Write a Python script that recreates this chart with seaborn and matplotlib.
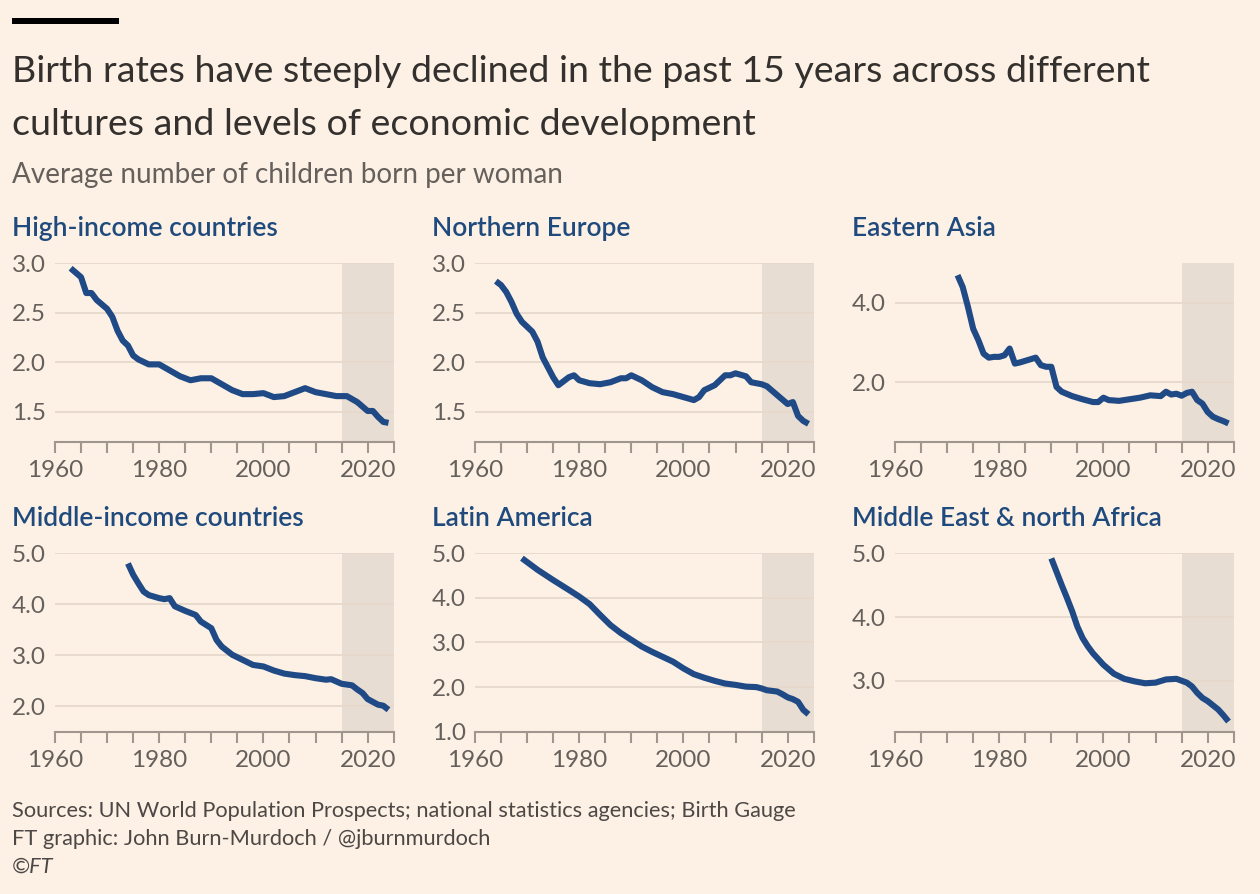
import matplotlib
matplotlib.use("Agg")
import matplotlib.pyplot as plt
import seaborn as sns
import pandas as pd
from matplotlib.patches import Rectangle

# ---------------- data ----------------
panel_titles = ["High-income countries", "Northern Europe", "Eastern Asia",
                "Middle-income countries", "Latin America", "Middle East & north Africa"]

high_years = [1963, 1965, 1966, 1967, 1968, 1970, 1971, 1972, 1973, 1974, 1975, 1976, 1978, 1980,
              1982, 1984, 1986, 1988, 1990, 1992, 1994, 1996, 1998, 2000, 2001, 2002, 2004, 2006,
              2008, 2010, 2012, 2014, 2016, 2018, 2020, 2021, 2022, 2023, 2024]
high_vals = [2.95, 2.86, 2.70, 2.70, 2.63, 2.54, 2.46, 2.32, 2.22, 2.17, 2.07, 2.03, 1.98, 1.98,
             1.92, 1.86, 1.82, 1.84, 1.84, 1.78, 1.72, 1.68, 1.68, 1.69, 1.67, 1.65, 1.66, 1.70,
             1.74, 1.70, 1.68, 1.66, 1.66, 1.60, 1.51, 1.51, 1.45, 1.40, 1.39]

neur_years = [1964, 1965, 1966, 1967, 1968, 1969, 1971, 1972, 1973, 1974, 1975, 1976, 1978, 1979,
              1980, 1982, 1984, 1986, 1988, 1989, 1990, 1992, 1994, 1996, 1998, 2000, 2002, 2003,
              2004, 2006, 2008, 2009, 2010, 2012, 2013, 2015, 2016, 2018, 2020, 2021, 2022, 2023, 2024]
neur_vals = [2.82, 2.78, 2.71, 2.61, 2.49, 2.41, 2.31, 2.21, 2.05, 1.95, 1.85, 1.77, 1.85, 1.87,
             1.82, 1.79, 1.78, 1.80, 1.84, 1.84, 1.87, 1.82, 1.75, 1.70, 1.68, 1.65, 1.62, 1.65,
             1.72, 1.77, 1.87, 1.87, 1.89, 1.86, 1.80, 1.78, 1.76, 1.67, 1.58, 1.60, 1.46, 1.41, 1.38]

easia_years = [1972, 1973, 1974, 1975, 1976, 1977, 1978, 1979, 1980, 1981, 1982, 1983, 1984, 1986,
               1987, 1988, 1989, 1990, 1991, 1992, 1994, 1996, 1998, 1999, 2000, 2001, 2003, 2005,
               2007, 2009, 2011, 2012, 2013, 2014, 2015, 2016, 2017, 2018, 2019, 2020, 2021, 2022,
               2023, 2024]
easia_vals = [4.70, 4.40, 3.90, 3.35, 3.06, 2.72, 2.62, 2.64, 2.64, 2.68, 2.85, 2.47, 2.50, 2.58,
              2.62, 2.43, 2.39, 2.39, 1.88, 1.76, 1.65, 1.57, 1.50, 1.50, 1.61, 1.55, 1.53, 1.57,
              1.61, 1.67, 1.65, 1.76, 1.69, 1.71, 1.66, 1.73, 1.76, 1.55, 1.46, 1.25, 1.13, 1.07,
              1.02, 0.96]

mid_years = [1974, 1975, 1976, 1977, 1978, 1980, 1981, 1982, 1983, 1985, 1987, 1988, 1990, 1991,
             1992, 1994, 1996, 1998, 2000, 2002, 2004, 2006, 2008, 2010, 2012, 2013, 2015, 2017,
             2018, 2019, 2020, 2022, 2023, 2024]
mid_vals = [4.80, 4.58, 4.41, 4.25, 4.18, 4.12, 4.10, 4.12, 3.96, 3.87, 3.79, 3.66, 3.53, 3.30,
            3.17, 3.01, 2.91, 2.81, 2.78, 2.70, 2.64, 2.61, 2.59, 2.55, 2.52, 2.53, 2.44, 2.41,
            2.33, 2.26, 2.14, 2.03, 2.01, 1.93]

latam_years = [1969, 1972, 1975, 1978, 1980, 1982, 1984, 1986, 1988, 1990, 1992, 1994, 1996, 1998,
               2000, 2002, 2004, 2006, 2008, 2010, 2012, 2014, 2015, 2016, 2018, 2019, 2020, 2021,
               2022, 2023, 2024]
latam_vals = [4.89, 4.63, 4.40, 4.18, 4.03, 3.86, 3.62, 3.39, 3.21, 3.06, 2.91, 2.79, 2.68, 2.57,
              2.42, 2.29, 2.21, 2.14, 2.08, 2.05, 2.01, 2.00, 1.97, 1.93, 1.90, 1.84, 1.77, 1.73,
              1.67, 1.49, 1.39]

mena_years = [1990, 1991, 1992, 1993, 1994, 1995, 1996, 1997, 1998, 2000, 2002, 2004, 2006, 2008,
              2010, 2012, 2014, 2016, 2017, 2018, 2019, 2020, 2022, 2023, 2024]
mena_vals = [4.92, 4.71, 4.50, 4.30, 4.09, 3.85, 3.67, 3.54, 3.43, 3.25, 3.11, 3.03, 2.99, 2.96,
             2.97, 3.02, 3.03, 2.97, 2.91, 2.81, 2.73, 2.68, 2.55, 2.46, 2.36]

series_years = [high_years, neur_years, easia_years, mid_years, latam_years, mena_years]
series_vals = [high_vals, neur_vals, easia_vals, mid_vals, latam_vals, mena_vals]

y_limits = [(1.2, 3.0), (1.2, 3.0), (0.5, 5.0), (1.5, 5.0), (1.0, 5.0), (2.2, 5.0)]
y_ticks = [[1.5, 2.0, 2.5, 3.0], [1.5, 2.0, 2.5, 3.0], [2.0, 4.0],
           [2.0, 3.0, 4.0, 5.0], [1.0, 2.0, 3.0, 4.0, 5.0], [3.0, 4.0, 5.0]]
x_ticks = list(range(1960, 2026, 5))
x_labels = [str(y) if y in (1960, 1980, 2000, 2020) else "" for y in x_ticks]

title_lines = ["Birth rates have steeply declined in the past 15 years across different",
               "cultures and levels of economic development"]
subtitle = "Average number of children born per woman"
footer = ["Sources: UN World Population Prospects; national statistics agencies; Birth Gauge",
          "FT graphic: John Burn-Murdoch / @jburnmurdoch"]
copyright_text = "©FT"

# ---------------- style ----------------
BG = "#fdf1e5"
SHADE = "#e8ddd2"
LINE = "#204a86"
PTITLE = "#1f4a7d"
TITLE_C = "#33302e"
GREY = "#66605c"
GRID = "#e6d9cc"
AXIS = "#a0968e"

W, H, DPI = 1260, 894, 100
sns.set_theme(style="white")
plt.rcParams['font.family'] = ['Lato', 'DejaVu Sans']

fig = plt.figure(figsize=(W / DPI, H / DPI), dpi=DPI, facecolor=BG)
renderer = fig.canvas.get_renderer()


def fy(py):
    return 1 - py / H


def fit_text(x, y, s, target_w, fs0=20, **kw):
    t = fig.text(x / W, fy(y), s, fontsize=fs0, va="baseline", ha="left", **kw)
    w = t.get_window_extent(renderer=renderer).width
    t.set_fontsize(fs0 * target_w / w)
    return t


# black bar
fig.patches.append(Rectangle((12 / W, fy(24)), 107 / W, 6 / H, transform=fig.transFigure,
                             facecolor="black", edgecolor="none"))

t1 = fit_text(12, 82, title_lines[0], 1140, color=TITLE_C)
fig.text(12 / W, fy(135), title_lines[1], fontsize=t1.get_fontsize(), va="baseline", color=TITLE_C)
fit_text(12, 183, subtitle, 553, color=GREY)
f1 = fit_text(12, 817, footer[0], 783, color="#4d4845")
fig.text(12 / W, fy(845), footer[1], fontsize=f1.get_fontsize(), va="baseline", color="#4d4845")
fig.text(12 / W, fy(873), copyright_text, fontsize=f1.get_fontsize(), va="baseline",
         color="#4d4845", style="italic")

pt = None
ax_tops = [263.3, 553.3]
ax_h = 178.4
ax_w = 338.7
for i in range(6):
    r, c = divmod(i, 3)
    left = 55 + 420 * c
    top = ax_tops[r]
    ax = fig.add_axes([left / W, fy(top + ax_h), ax_w / W, ax_h / H])
    ax.set_facecolor(BG)
    df = pd.DataFrame({"year": series_years[i], "tfr": series_vals[i]})
    ax.axvspan(2015, 2025, color=SHADE, zorder=0, lw=0)
    sns.lineplot(data=df, x="year", y="tfr", ax=ax, color=LINE, lw=4.4,
                 solid_capstyle="butt", solid_joinstyle="round", zorder=3)
    ax.set_xlim(1960, 2025)
    ax.set_ylim(*y_limits[i])
    ax.set_yticks(y_ticks[i])
    ax.set_yticklabels([f"{v:.1f}" for v in y_ticks[i]])
    ax.set_xticks(x_ticks)
    ax.set_xticklabels(x_labels)
    ax.set_xlabel("")
    ax.set_ylabel("")
    ax.set_axisbelow(True)
    ax.grid(axis="y", color=GRID, lw=1.3)
    ax.grid(axis="x", visible=False)
    for s in ("top", "right", "left"):
        ax.spines[s].set_visible(False)
    ax.spines["bottom"].set_color(AXIS)
    ax.spines["bottom"].set_linewidth(1.5)
    ax.tick_params(axis="x", length=8, width=1.5, color=AXIS, pad=5, labelsize=17.5,
                   labelcolor=GREY, direction="out", bottom=True)
    ax.tick_params(axis="y", length=0, labelsize=17.5, labelcolor=GREY)
    for lab in ax.get_yticklabels():
        lab.set_horizontalalignment("left")
    ax.yaxis.set_tick_params(pad=31)
    # panel title
    tx, ty = 12 + 420 * c, top - 27
    if pt is None:
        pt = fit_text(tx, ty, panel_titles[i], 266, color=PTITLE, weight="semibold")
    else:
        fig.text(tx / W, fy(ty), panel_titles[i], fontsize=pt.get_fontsize(), va="baseline",
                 color=PTITLE, weight="semibold")

fig.savefig("out.png", dpi=DPI, facecolor=BG)
